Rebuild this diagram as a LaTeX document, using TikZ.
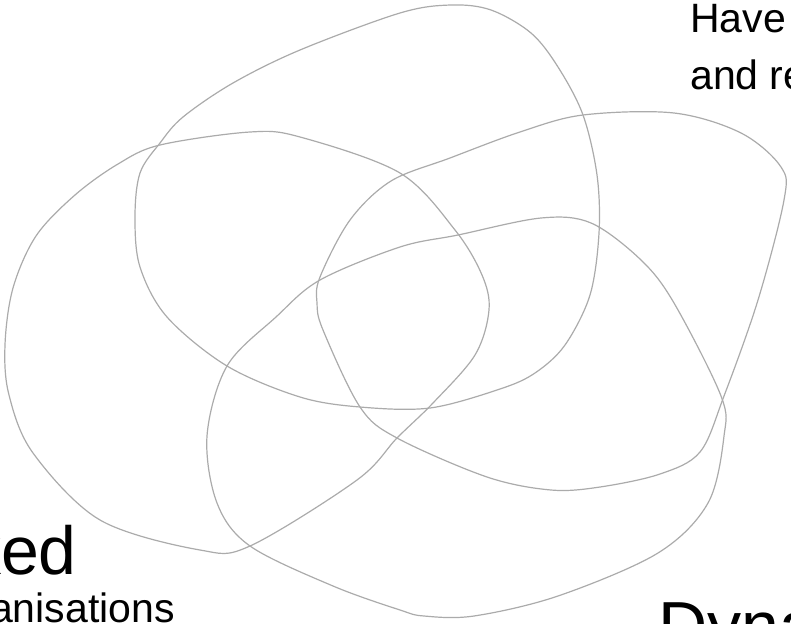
\documentclass[tikz,border=0pt]{standalone}
\usepackage{fontspec}
\setmainfont{Liberation Sans}
\begin{document}
\begin{tikzpicture}[x=1pt,y=-1pt,
  blob/.style={draw=black!33, line width=1.2pt, line join=round},
  bigtext/.style={font=\fontsize{68}{80}\selectfont, text=black, inner sep=0pt},
  subtext/.style={font=\fontsize{41}{57}\selectfont, text=black, inner sep=0pt}]
\useasboundingbox (0,0) rectangle (791,623);
% top blob
\draw[blob] plot[smooth cycle, tension=0.55] coordinates {
  (451,5) (491,10) (531,33) (558,67) (583,115) (597,175) (599,233) (590,295)
  (565,345) (535,373) (500,389) (430,408) (360,407) (300,397) (227,366) (167,317)
  (140,267) (135,217) (140,173) (160,143) (183,117) (233,83) (300,50) (400,13)};
% left blob
\draw[blob] plot[smooth cycle, tension=0.55] coordinates {
  (5,345) (13,288) (36,236) (75,195) (118,164) (160,145) (250,132) (300,137)
  (400,173) (455,230) (482,275) (489,310) (475,355) (433,403) (397,438) (357,480)
  (250,546) (200,550) (100,520) (33,453) (9,395)};
% right blob
\draw[blob] plot[smooth cycle, tension=0.55] coordinates {
  (391,181) (450,158) (520,132) (583,115) (674,113) (741,133) (781,167)
  (784,200) (758,300) (724,396) (700,452) (660,474) (600,487) (551,490) (487,477)
  (397,438) (360,407) (323,330) (317,303) (320,277) (350,220)};
% bottom blob
\draw[blob] plot[smooth cycle, tension=0.55] coordinates {
  (541,218) (591,223) (641,260) (674,303) (721,396) (724,436) (708,503)
  (658,553) (558,596) (474,616) (424,616) (400,610) (333,586) (250,546)
  (217,503) (207,436) (227,366) (276,317) (320,280) (400,247) (458,235)};
% texts
\node[subtext, anchor=base west] (have) at (690,33) {Have};
\node[subtext, anchor=base west] (andre) at (690,90) {and re};
\node[bigtext, anchor=base east] (ked) at (77,574) {ked};
\node[subtext, anchor=base east] (anis) at (175,622) {anisations};
\node[bigtext, anchor=base west] (dyna) at (658,649) {Dyna};
\end{tikzpicture}
\end{document}
